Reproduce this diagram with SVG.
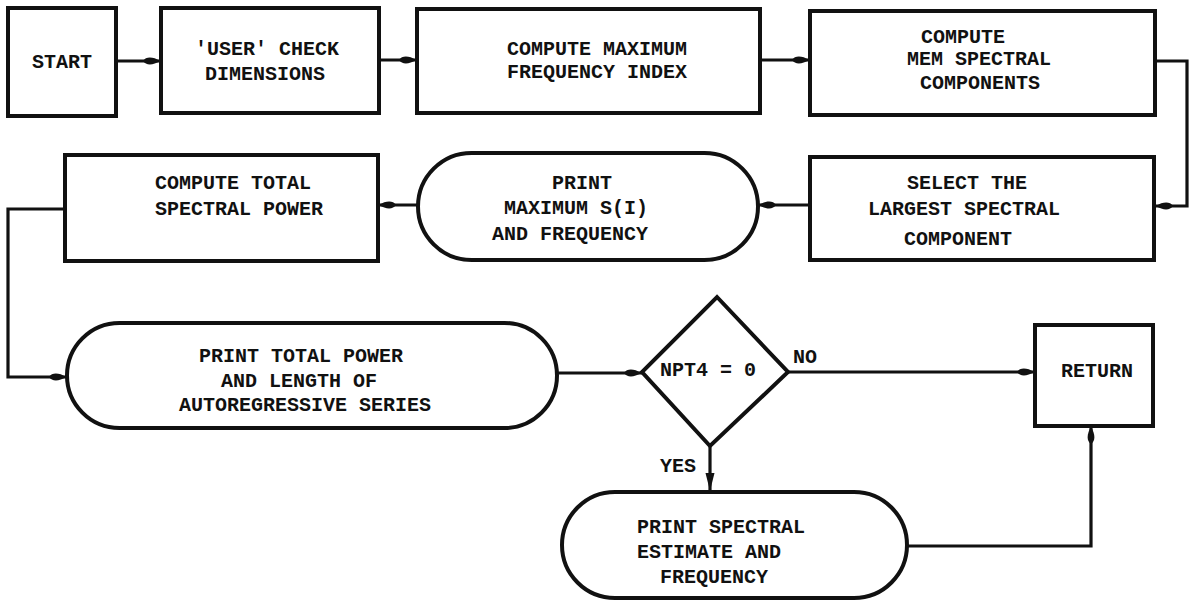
<svg xmlns="http://www.w3.org/2000/svg" width="1198" height="600" viewBox="0 0 1198 600">
  <style>
    .box { fill: #fff; stroke: #111; stroke-width: 4; }
    .wire { fill: none; stroke: #111; stroke-width: 3.2; stroke-linejoin: miter; }
    .lbl { font-family: "Liberation Mono", "Courier New", monospace; font-weight: bold; font-size: 20px; fill: #111; }
    .mid { text-anchor: middle; }
  </style>
  <defs>
    <!-- small elongated flow arrowhead, tip a couple of pixels short of the target -->
    <marker id="flow" markerUnits="userSpaceOnUse" markerWidth="22" markerHeight="12" refX="18" refY="5" orient="auto" overflow="visible">
      <path d="M0,5 C3,0.4 10,0.6 17,5 C10,9.4 3,9.6 0,5 z" fill="#111"/>
    </marker>
    <!-- plain triangular arrowhead -->
    <marker id="tri" markerUnits="userSpaceOnUse" markerWidth="20" markerHeight="10" refX="18" refY="5" orient="auto" overflow="visible">
      <path d="M0,0.5 L18,5 L0,9.5 z" fill="#111"/>
    </marker>
  </defs>
  <rect width="1198" height="600" fill="#fff"/>

  <g id="connectors">
    <path class="wire" d="M116,61 H161" marker-end="url(#flow)"/>
    <path class="wire" d="M379,60 H417" marker-end="url(#flow)"/>
    <path class="wire" d="M760,60 H810" marker-end="url(#flow)"/>
    <path class="wire" d="M1155,61 H1187 V206 H1155" marker-end="url(#flow)"/>
    <path class="wire" d="M810,205 H758" marker-end="url(#flow)"/>
    <path class="wire" d="M418,205 H378" marker-end="url(#flow)"/>
    <path class="wire" d="M65,209 H8 V377 H67" marker-end="url(#flow)"/>
    <path class="wire" d="M557,373 H642" marker-end="url(#flow)"/>
    <path class="wire" d="M788,372 H1035" marker-end="url(#flow)"/>
    <path class="wire" d="M710,446 V491" marker-end="url(#tri)"/>
    <path class="wire" d="M907,546 H1091 V426" marker-end="url(#flow)"/>
  </g>

  <g id="start">
    <rect class="box" x="8" y="8" width="108" height="108"/>
    <text class="lbl mid" x="62" y="68">START</text>
  </g>

  <g id="user-check">
    <rect class="box" x="161" y="8" width="218" height="105"/>
    <text class="lbl mid" x="267" y="55">'USER' CHECK</text>
    <text class="lbl mid" x="265" y="80">DIMENSIONS</text>
  </g>

  <g id="max-freq-index">
    <rect class="box" x="417" y="9" width="343" height="104"/>
    <text class="lbl mid" x="597" y="55">COMPUTE MAXIMUM</text>
    <text class="lbl mid" x="597" y="78">FREQUENCY INDEX</text>
  </g>

  <g id="mem-components">
    <rect class="box" x="810" y="11" width="345" height="104"/>
    <text class="lbl mid" x="963" y="43">COMPUTE</text>
    <text class="lbl mid" x="979" y="65">MEM SPECTRAL</text>
    <text class="lbl mid" x="980" y="89">COMPONENTS</text>
  </g>

  <g id="select-largest">
    <rect class="box" x="810" y="157" width="344" height="103"/>
    <text class="lbl mid" x="967" y="189">SELECT THE</text>
    <text class="lbl mid" x="964" y="215">LARGEST SPECTRAL</text>
    <text class="lbl mid" x="958" y="245">COMPONENT</text>
  </g>

  <g id="print-max">
    <rect class="box" x="418" y="153" width="340" height="107" rx="53.5" ry="53.5"/>
    <text class="lbl mid" x="582" y="189">PRINT</text>
    <text class="lbl" x="648" y="214" text-anchor="end">MAXIMUM S(I)</text>
    <text class="lbl" x="648" y="240" text-anchor="end">AND FREQUENCY</text>
  </g>

  <g id="total-power">
    <rect class="box" x="65" y="155" width="313" height="106"/>
    <text class="lbl" x="155" y="189">COMPUTE TOTAL</text>
    <text class="lbl" x="155" y="215">SPECTRAL POWER</text>
  </g>

  <g id="print-total">
    <rect class="box" x="67" y="323" width="490" height="105" rx="52.5" ry="52.5"/>
    <text class="lbl mid" x="301" y="362">PRINT TOTAL POWER</text>
    <text class="lbl mid" x="299" y="387">AND LENGTH OF</text>
    <text class="lbl mid" x="305" y="411">AUTOREGRESSIVE SERIES</text>
  </g>

  <g id="npt4-test">
    <polygon class="box" points="717,297 788,372 710,446 642,372"/>
    <text class="lbl" x="660" y="376">NPT4 = 0</text>
    <text class="lbl" x="793" y="363">NO</text>
    <text class="lbl" x="660" y="472">YES</text>
  </g>

  <g id="return">
    <rect class="box" x="1035" y="325" width="118" height="101"/>
    <text class="lbl mid" x="1097" y="377">RETURN</text>
  </g>

  <g id="print-spectral">
    <rect class="box" x="562" y="492" width="345" height="106" rx="53" ry="53"/>
    <text class="lbl" x="637" y="533">PRINT SPECTRAL</text>
    <text class="lbl" x="637" y="558">ESTIMATE AND</text>
    <text class="lbl" x="660" y="583">FREQUENCY</text>
  </g>
</svg>
